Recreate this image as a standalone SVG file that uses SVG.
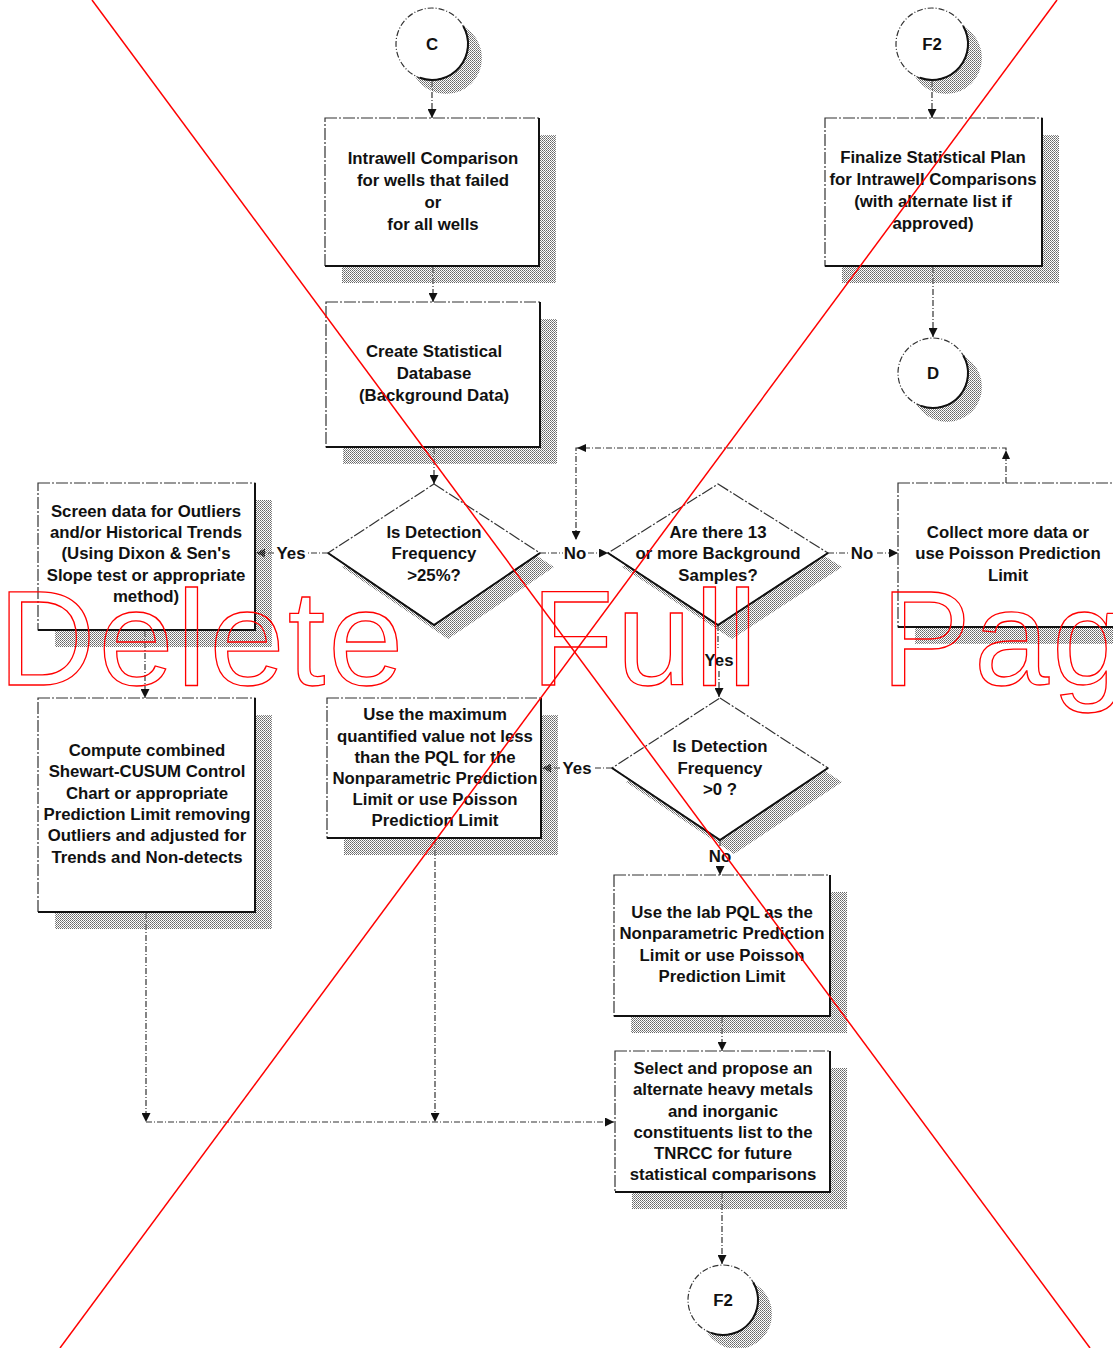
<svg xmlns="http://www.w3.org/2000/svg" width="1113" height="1348" viewBox="0 0 1113 1348">
<defs>
<pattern id="stip" width="2" height="2" patternUnits="userSpaceOnUse">
<rect x="0" y="0" width="1" height="1" fill="#666"/>
<rect x="1" y="1" width="1" height="1" fill="#888"/>
</pattern>
<marker id="ah" viewBox="0 0 10 10" refX="10" refY="5" markerWidth="10" markerHeight="9" markerUnits="userSpaceOnUse" orient="auto">
<path d="M0,0 L10,5 L0,10 z" fill="#111"/>
</marker>
</defs>
<style>
.box{fill:#fff;stroke:#333;stroke-width:1.2;stroke-dasharray:12 2 2 2}
.edge{fill:none;stroke:#111;stroke-width:2}
.shd{fill:url(#stip)}
.t{font-family:"Liberation Sans",Arial,sans-serif;font-size:16.8px;font-weight:bold;fill:#111;text-anchor:middle}
.c{fill:none;stroke:#333;stroke-width:1.2;stroke-dasharray:6 2 1 2}
.ar{marker-end:url(#ah)}
.red{stroke:#ff0000;stroke-width:1.5;fill:none}
.wm{font-family:"Liberation Sans",Arial,sans-serif;font-size:135px;fill:none;stroke:#ff0000;stroke-width:1.3;letter-spacing:3px}
</style>
<rect width="1113" height="1348" fill="#fff"/>

<g id="connectors">
<path class="c ar" d="M432,81 V118"/>
<path class="c ar" d="M932,81 V118"/>
<path class="c ar" d="M933,267 V337"/>
<path class="c ar" d="M433,267 V302"/>
<path class="c ar" d="M434,448 V484"/>
<path class="c" d="M540,553 H563"/>
<path class="c ar" d="M588,553 H608"/>
<path class="c ar" d="M1006,483 V448 H576 V540"/>
<path d="M1002,459 L1006,450 L1010,459 z" fill="#111"/>
<path d="M586,444 L577,448 L586,452 z" fill="#111"/>
<path class="c" d="M828,553 H848"/>
<path class="c ar" d="M877,553 H898"/>
<path class="c" d="M328,553 H308"/>
<path class="c ar" d="M274,553 H256"/>
<path class="c ar" d="M145,631 V698"/>
<path class="c" d="M718,625 V648"/>
<path class="c ar" d="M719,671 V697"/>
<path class="c" d="M612,768 H594"/>
<path class="c ar" d="M560,768 H542"/>
<path class="c" d="M720,840 V846"/>
<path class="c ar" d="M720,866 V875"/>
<path class="c ar" d="M146,913 V1122"/>
<path class="c ar" d="M435,839 V1122"/>
<path class="c ar" d="M146,1122 H614"/>
<path class="c ar" d="M722,1017 V1051"/>
<path class="c ar" d="M722,1193 V1264"/>
<text class="t" x="575" y="559">No</text>
<text class="t" x="862" y="559">No</text>
<text class="t" x="291" y="559">Yes</text>
<text class="t" x="719" y="666">Yes</text>
<text class="t" x="577" y="774">Yes</text>
<text class="t" x="720" y="862">No</text>
</g>

<g id="conn-C">
<circle class="shd" cx="446" cy="58" r="36"/>
<circle cx="432" cy="44" r="36" fill="#fff" stroke="#333" stroke-width="1.2" stroke-dasharray="6 2 1 2"/>
<path class="edge" d="M463.2,26 A36,36 0 0 1 419.7,77.8"/>
<text class="t" x="432" y="50">C</text>
</g>

<g id="conn-F2-top">
<circle class="shd" cx="946" cy="58" r="36"/>
<circle cx="932" cy="44" r="36" fill="#fff" stroke="#333" stroke-width="1.2" stroke-dasharray="6 2 1 2"/>
<path class="edge" d="M963.2,26 A36,36 0 0 1 919.7,77.8"/>
<text class="t" x="932" y="50">F2</text>
</g>

<g id="conn-D">
<circle class="shd" cx="947" cy="387" r="35"/>
<circle cx="933" cy="373" r="35" fill="#fff" stroke="#333" stroke-width="1.2" stroke-dasharray="6 2 1 2"/>
<path class="edge" d="M963.3,355.5 A35,35 0 0 1 921,405.9"/>
<text class="t" x="933" y="379">D</text>
</g>

<g id="conn-F2-bottom">
<circle class="shd" cx="737" cy="1314" r="35"/>
<circle cx="723" cy="1300" r="35" fill="#fff" stroke="#333" stroke-width="1.2" stroke-dasharray="6 2 1 2"/>
<path class="edge" d="M753.3,1282.5 A35,35 0 0 1 711,1332.9"/>
<text class="t" x="723" y="1306">F2</text>
</g>

<g id="intrawell">
<rect class="shd" x="342" y="135" width="214" height="148"/>
<rect class="box" x="325" y="118" width="214" height="148"/>
<path class="edge" d="M325,266 H539 V118"/>
<text class="t" x="433" y="164">Intrawell Comparison</text>
<text class="t" x="433" y="186">for wells that failed</text>
<text class="t" x="433" y="208">or</text>
<text class="t" x="433" y="230">for all wells</text>
</g>

<g id="create-db">
<rect class="shd" x="343" y="319" width="214" height="145"/>
<rect class="box" x="326" y="302" width="214" height="145"/>
<path class="edge" d="M326,447 H540 V302"/>
<text class="t" x="434" y="357">Create Statistical</text>
<text class="t" x="434" y="379">Database</text>
<text class="t" x="434" y="401">(Background Data)</text>
</g>

<g id="finalize">
<rect class="shd" x="842" y="135" width="217" height="148"/>
<rect class="box" x="825" y="118" width="217" height="148"/>
<path class="edge" d="M825,266 H1042 V118"/>
<text class="t" x="933" y="163">Finalize Statistical Plan</text>
<text class="t" x="933" y="185">for Intrawell Comparisons</text>
<text class="t" x="933" y="207">(with alternate list if</text>
<text class="t" x="933" y="229">approved)</text>
</g>

<g id="decision-25">
<polygon class="shd" points="448,498 554,567 448,639 342,567"/>
<polygon class="box" points="434,484 540,553 434,625 328,553"/>
<path class="edge" d="M328,553 L434,625 L540,553"/>
<text class="t" x="434" y="538">Is Detection</text>
<text class="t" x="434" y="559">Frequency</text>
<text class="t" x="434" y="581">&gt;25%?</text>
</g>

<g id="screen-data">
<rect class="shd" x="55" y="500" width="217" height="147"/>
<rect class="box" x="38" y="483" width="217" height="147"/>
<path class="edge" d="M38,630 H255 V483"/>
<text class="t" x="146" y="517">Screen data for Outliers</text>
<text class="t" x="146" y="538">and/or Historical Trends</text>
<text class="t" x="146" y="559">(Using Dixon &amp; Sen's</text>
<text class="t" x="146" y="581">Slope test or appropriate</text>
<text class="t" x="146" y="602">method)</text>
</g>

<g id="decision-13">
<polygon class="shd" points="732,498 842,567 732,639 622,567"/>
<polygon class="box" points="718,484 828,553 718,625 608,553"/>
<path class="edge" d="M608,553 L718,625 L828,553"/>
<text class="t" x="718" y="538">Are there 13</text>
<text class="t" x="718" y="559">or more Background</text>
<text class="t" x="718" y="581">Samples?</text>
</g>

<g id="collect-more">
<rect class="shd" x="915" y="500" width="230" height="144"/>
<rect class="box" x="898" y="483" width="230" height="144"/>
<path class="edge" d="M898,627 H1128"/>
<text class="t" x="1008" y="538">Collect more data or</text>
<text class="t" x="1008" y="559">use Poisson Prediction</text>
<text class="t" x="1008" y="581">Limit</text>
</g>

<g id="decision-0">
<polygon class="shd" points="734,712 842,782 734,854 626,782"/>
<polygon class="box" points="720,698 828,768 720,840 612,768"/>
<path class="edge" d="M612,768 L720,840 L828,768"/>
<text class="t" x="720" y="752">Is Detection</text>
<text class="t" x="720" y="774">Frequency</text>
<text class="t" x="720" y="795">&gt;0 ?</text>
</g>

<g id="compute-chart">
<rect class="shd" x="55" y="715" width="217" height="214"/>
<rect class="box" x="38" y="698" width="217" height="214"/>
<path class="edge" d="M38,912 H255 V698"/>
<text class="t" x="147" y="756">Compute combined</text>
<text class="t" x="147" y="777">Shewart-CUSUM Control</text>
<text class="t" x="147" y="799">Chart or appropriate</text>
<text class="t" x="147" y="820">Prediction Limit removing</text>
<text class="t" x="147" y="841">Outliers and adjusted for</text>
<text class="t" x="147" y="863">Trends and Non-detects</text>
</g>

<g id="use-maximum">
<rect class="shd" x="344" y="715" width="214" height="140"/>
<rect class="box" x="327" y="698" width="214" height="140"/>
<path class="edge" d="M327,838 H541 V698"/>
<text class="t" x="435" y="720">Use the maximum</text>
<text class="t" x="435" y="742">quantified value not less</text>
<text class="t" x="435" y="763">than the PQL for the</text>
<text class="t" x="435" y="784">Nonparametric Prediction</text>
<text class="t" x="435" y="805">Limit or use Poisson</text>
<text class="t" x="435" y="826">Prediction Limit</text>
</g>

<g id="use-lab-pql">
<rect class="shd" x="631" y="892" width="216" height="141"/>
<rect class="box" x="614" y="875" width="216" height="141"/>
<path class="edge" d="M614,1016 H830 V875"/>
<text class="t" x="722" y="918">Use the lab PQL as the</text>
<text class="t" x="722" y="939">Nonparametric Prediction</text>
<text class="t" x="722" y="961">Limit or use Poisson</text>
<text class="t" x="722" y="982">Prediction Limit</text>
</g>

<g id="select-propose">
<rect class="shd" x="632" y="1068" width="215" height="141"/>
<rect class="box" x="615" y="1051" width="215" height="141"/>
<path class="edge" d="M615,1192 H830 V1051"/>
<text class="t" x="723" y="1074">Select and propose an</text>
<text class="t" x="723" y="1095">alternate heavy metals</text>
<text class="t" x="723" y="1117">and inorganic</text>
<text class="t" x="723" y="1138">constituents list  to the</text>
<text class="t" x="723" y="1159">TNRCC for future</text>
<text class="t" x="723" y="1180">statistical comparisons</text>
</g>

<g id="overlay">
<line class="red" x1="92" y1="0" x2="1090" y2="1348"/>
<line class="red" x1="1057" y1="0" x2="60" y2="1348"/>
<text class="wm" y="685"><tspan x="-2">Delete </tspan><tspan x="531">Full </tspan><tspan x="881">Page</tspan></text>
</g>
</svg>
